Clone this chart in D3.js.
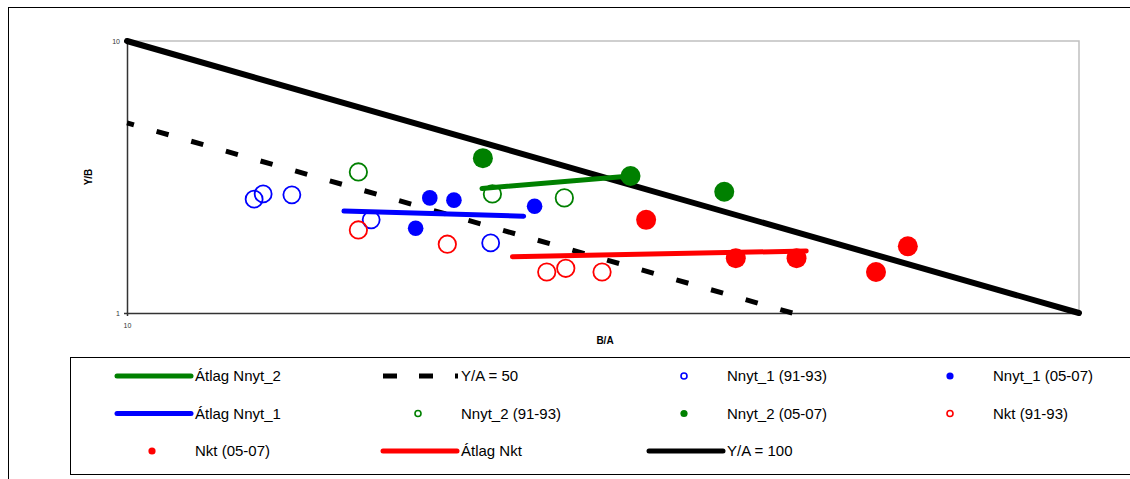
<!DOCTYPE html>
<html>
<head>
<meta charset="utf-8">
<script src="https://cdn.jsdelivr.net/npm/d3@7"></script>
<style>
  body { margin: 0; background: #fff; }
  svg { display: block; font-family: "Liberation Sans", Arial, sans-serif; }
</style>
</head>
<body>
<div id="chart"></div>
<script>
// Data (B/A on x, Y/B on y, both log scale)
const nnyt1Old = [[13.6, 2.62], [13.9, 2.74], [14.9, 2.72], [18.05, 2.2], [24.1, 1.81]];
const nnyt1New = [[20.8, 2.65], [22.05, 2.6], [20.1, 2.05], [26.8, 2.47]];
const nnyt2Old = [[17.5, 3.3], [24.2, 2.74], [28.8, 2.65]];
const nnyt2New = [[23.65, 3.71], [33.8, 3.19], [42.4, 2.79]];
const nktOld = [[17.5, 2.02], [21.7, 1.79], [27.6, 1.415], [28.9, 1.46], [31.55, 1.415]];
const nktNew = [[35.1, 2.2], [43.6, 1.59], [50.5, 1.59], [61.2, 1.415], [66.1, 1.76]];
const avgNnyt2 = [[23.6, 2.87], [33.8, 3.19]];
const avgNnyt1 = [[16.9, 2.37], [26.1, 2.27]];
const avgNkt = [[25.4, 1.61], [51.7, 1.69]];
const ya100 = [[10, 10], [100, 1]];
const ya50 = [[10, 5], [50, 1]];

const xDomain = [10, 100];
const yDomain = [1, 10];
const yTicks = [1, 10];
const xTicks = [10];

const blue = '#0000ff', green = '#008000', red = '#ff0000';

const width = 1130, height = 479;
const plot = { left: 127, top: 41, right: 1079, bottom: 313 };

const svg = d3.select('#chart').append('svg')
  .attr('width', width).attr('height', height);

// outer chart border
svg.append('rect')
  .attr('x', 8.5).attr('y', 7.5).attr('width', 1130).attr('height', 480)
  .attr('fill', '#fff').attr('stroke', '#000').attr('stroke-width', 1);

const x = d3.scaleLog().domain(xDomain).range([plot.left, plot.right]);
const y = d3.scaleLog().domain(yDomain).range([plot.bottom, plot.top]);

// plot area frame (top/right grey)
svg.append('path')
  .attr('d', `M${plot.left},${plot.top}H${plot.right}V${plot.bottom}`)
  .attr('fill', 'none').attr('stroke', '#c0c0c0').attr('stroke-width', 1.5);

const line = d3.line().x(d => x(d[0])).y(d => y(d[1]));
const g = svg.append('g');

// reference lines
g.append('path').datum(ya50).attr('d', line).attr('fill', 'none')
  .attr('stroke', '#000').attr('stroke-width', 5)
  .attr('stroke-dasharray', '12.5,23.54').attr('stroke-dashoffset', 5.3);
g.append('path').datum(ya100).attr('d', line).attr('fill', 'none')
  .attr('stroke', '#000').attr('stroke-width', 6).attr('stroke-linecap', 'round');

// axes
const yAxis = svg.append('g').attr('transform', `translate(${plot.left},0)`)
  .call(d3.axisLeft(y).tickValues(yTicks).tickFormat(d3.format('d')).tickSize(3).tickPadding(4));
const xAxis = svg.append('g').attr('transform', `translate(0,${plot.bottom})`)
  .call(d3.axisBottom(x).tickValues(xTicks).tickFormat(d3.format('d')).tickSize(3).tickPadding(7));
[yAxis, xAxis].forEach(a => {
  a.select('.domain').attr('stroke', '#333').attr('stroke-width', 1.5);
  a.selectAll('.tick line').attr('stroke', '#333');
  a.selectAll('.tick text').attr('font-size', 7).attr('fill', '#333')
    .attr('font-family', '"Liberation Sans", Arial, sans-serif');
});

// axis titles
svg.append('text').attr('x', 605).attr('y', 344).attr('text-anchor', 'middle')
  .attr('font-size', 10).attr('font-weight', 'bold').text('B/A');
svg.append('text').attr('transform', 'translate(92,177) rotate(-90)').attr('text-anchor', 'middle')
  .attr('font-size', 10).attr('font-weight', 'bold').text('Y/B');

// average lines
[[avgNnyt2, green], [avgNnyt1, blue], [avgNkt, red]].forEach(([d, c]) => {
  g.append('path').datum(d).attr('d', line).attr('fill', 'none')
    .attr('stroke', c).attr('stroke-width', 5).attr('stroke-linecap', 'round');
});
g.raise();

// markers
function markers(data, color, filled, r) {
  g.selectAll(null).data(data).enter().append('circle')
    .attr('cx', d => x(d[0])).attr('cy', d => y(d[1]))
    .attr('r', r)
    .attr('fill', filled ? color : 'none')
    .attr('stroke', color).attr('stroke-width', filled ? 0 : 1.8);
}
markers(nnyt1Old, blue, false, 8.5);
markers(nnyt2Old, green, false, 8.7);
markers(nktOld, red, false, 8.7);
markers(nnyt1New, blue, true, 7.8);
markers(nnyt2New, green, true, 10);
markers(nktNew, red, true, 10);

// legend
svg.append('rect').attr('x', 70.5).attr('y', 357.5).attr('width', 1100).attr('height', 117)
  .attr('fill', '#fff').attr('stroke', '#000').attr('stroke-width', 1);

const legendItems = [
  { label: 'Átlag Nnyt_2', type: 'line', color: green },
  { label: 'Y/A = 50', type: 'dash', color: '#000' },
  { label: 'Nnyt_1 (91-93)', type: 'open', color: blue },
  { label: 'Nnyt_1 (05-07)', type: 'dot', color: blue },
  { label: 'Átlag Nnyt_1', type: 'line', color: blue },
  { label: 'Nnyt_2 (91-93)', type: 'open', color: green },
  { label: 'Nnyt_2 (05-07)', type: 'dot', color: green },
  { label: 'Nkt (91-93)', type: 'open', color: red },
  { label: 'Nkt (05-07)', type: 'dot', color: red },
  { label: 'Átlag Nkt', type: 'line', color: red },
  { label: 'Y/A = 100', type: 'line', color: '#000' }
];
const colX = [195, 461, 727, 993];
const rowY = [376, 413.5, 451];

const leg = svg.selectAll('.leg').data(legendItems).enter().append('g')
  .attr('transform', (d, i) => `translate(${colX[i % 4]},${rowY[Math.floor(i / 4)]})`);
leg.each(function (d) {
  const s = d3.select(this);
  if (d.type === 'line') {
    s.append('line').attr('x1', -78).attr('x2', -4).attr('y1', 0).attr('y2', 0)
      .attr('stroke', d.color).attr('stroke-width', 5).attr('stroke-linecap', 'round');
  } else if (d.type === 'dash') {
    s.append('line').attr('x1', -78).attr('x2', -3).attr('y1', 0).attr('y2', 0)
      .attr('stroke', d.color).attr('stroke-width', 5).attr('stroke-dasharray', '14,22');
  } else {
    s.append('circle').attr('cx', -43).attr('cy', 0).attr('r', d.type === 'dot' ? 3.6 : 3)
      .attr('fill', d.type === 'dot' ? d.color : 'none')
      .attr('stroke', d.color).attr('stroke-width', d.type === 'dot' ? 0 : 1.6);
  }
  s.append('text').attr('x', 0).attr('y', 5.4).attr('font-size', 15).attr('fill', '#000').text(d.label);
});
</script>
</body>
</html>
